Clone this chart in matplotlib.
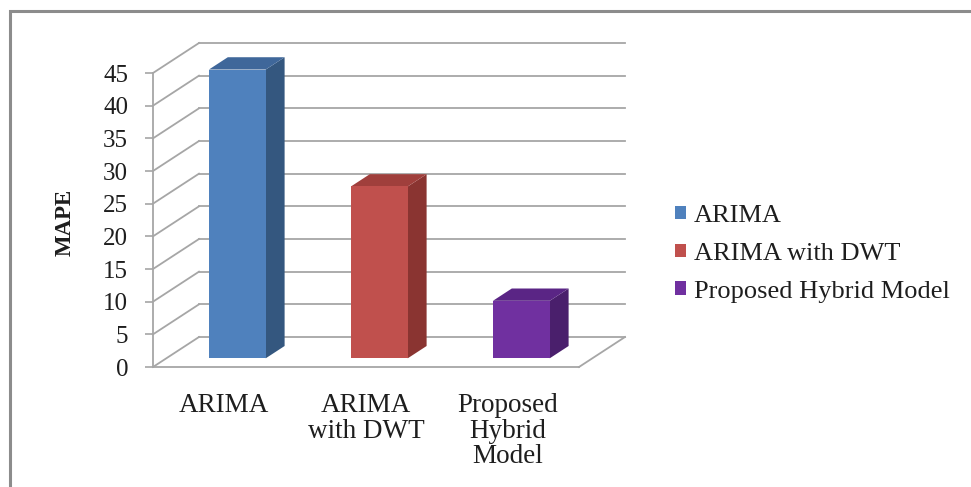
import matplotlib
matplotlib.use('Agg')
import matplotlib.pyplot as plt
from matplotlib.patches import Polygon, Rectangle, Patch
import numpy as np

# chart data
categories = ['ARIMA', 'ARIMA\nwith DWT', 'Proposed\nHybrid\nModel']
series_names = ['ARIMA', 'ARIMA with DWT', 'Proposed Hybrid Model']
mape = [44.2, 26.3, 8.8]
y_ticks = [0, 5, 10, 15, 20, 25, 30, 35, 40, 45]

front_colors = ['#4F81BD', '#C0504D', '#7030A0']
side_colors = ['#34577F', '#8A3431', '#4A1F6C']
top_colors = ['#3F679A', '#A03F3C', '#5A2585']

plt.rcParams['font.family'] = ['Liberation Serif', 'DejaVu Serif']
text_color = '#1E1E1E'
grid_color = '#A6A6A6'

W, H = 971, 487
fig = plt.figure(figsize=(W / 100, H / 100), dpi=100)

# front plot box in pixels: x -0.5..2.5 -> 153..579, y 0..45 -> 367..73
left, right, top, bottom = 153, 579, 73, 367
ax = fig.add_axes([left / W, (H - bottom) / H, (right - left) / W, (bottom - top) / H])
ax.set_xlim(-0.5, 2.5)
ax.set_ylim(0, 45)

# depth of the 3d box, in data units
DX = 46 / 142.0
DY = 30 / 6.533

x = np.arange(len(categories))
width = 0.4
z0, z1 = 0.29, 0.70

# back wall gridlines and left wall diagonals
for v in y_ticks:
    ax.plot([-0.5 + DX, 2.5 + DX], [v + DY, v + DY], color=grid_color, lw=1.3, clip_on=False, zorder=1)
    ax.plot([-0.5, -0.5 + DX], [v, v + DY], color=grid_color, lw=1.3, clip_on=False, zorder=1)

# floor
ax.plot([-0.5, 2.5], [0, 0], color=grid_color, lw=1.3, clip_on=False, zorder=1)
ax.plot([2.5, 2.5 + DX], [0, DY], color=grid_color, lw=1.3, clip_on=False, zorder=1)

# bars: front faces, then sides and tops
ax.bar(x + z0 * DX, mape, width=width, bottom=z0 * DY, color=front_colors, zorder=4, clip_on=False)
for i, v in enumerate(mape):
    xl = x[i] - width / 2
    xr = x[i] + width / 2
    side = [(xr + z0 * DX, z0 * DY), (xr + z1 * DX, z1 * DY),
            (xr + z1 * DX, v + z1 * DY), (xr + z0 * DX, v + z0 * DY)]
    topf = [(xl + z0 * DX, v + z0 * DY), (xr + z0 * DX, v + z0 * DY),
            (xr + z1 * DX, v + z1 * DY), (xl + z1 * DX, v + z1 * DY)]
    ax.add_patch(Polygon(side, closed=True, facecolor=side_colors[i], edgecolor='none', zorder=3, clip_on=False))
    ax.add_patch(Polygon(topf, closed=True, facecolor=top_colors[i], edgecolor='none', zorder=3, clip_on=False))

# axes styling
for s in ['top', 'right', 'bottom']:
    ax.spines[s].set_visible(False)
ax.spines['left'].set_color(grid_color)
ax.spines['left'].set_linewidth(1.3)
ax.set_facecolor('none')
ax.set_yticks(y_ticks)
ax.tick_params(axis='y', length=6, width=1.2, color=grid_color, pad=12, labelsize=18, labelcolor=text_color)
ax.set_xticks(x)
ax.set_xticklabels(categories, linespacing=1.02)
ax.tick_params(axis='x', length=0, pad=19, labelsize=19.5, labelcolor=text_color)

fig.text(65 / W, 1 - 222 / H, 'MAPE', rotation=90, ha='center', va='center',
         fontsize=16.5, fontweight='bold', color=text_color)

handles = [Patch(facecolor=c, edgecolor='none') for c in front_colors]
fig.legend(handles, series_names, loc='upper left', bbox_to_anchor=(675 / W, 1 - 205 / H),
           bbox_transform=fig.transFigure, frameon=False, fontsize=19, borderpad=0, borderaxespad=0,
           handlelength=0.42, handleheight=0.42, handletextpad=0.3, labelspacing=0.6,
           labelcolor=text_color)

# outer chart frame (cut off at right and bottom)
fig.add_artist(Rectangle((10 / W, -0.1), 1.1, 1 - 11 / H + 0.1, transform=fig.transFigure,
                         fill=False, edgecolor='#8C8C8C', linewidth=2.2))

fig.savefig('out.png', dpi=100)
